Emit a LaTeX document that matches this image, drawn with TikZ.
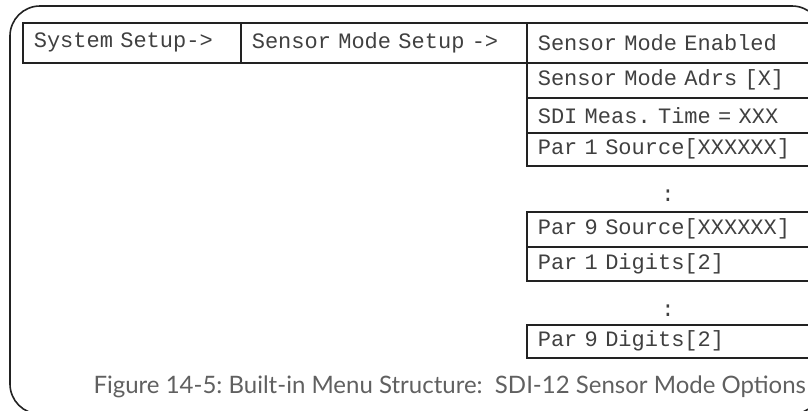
\documentclass[tikz,border=0pt]{standalone}
\usepackage{fontspec}
\setmonofont{Liberation Mono}[WordSpace={1,0,0},PunctuationSpace=1]
\newfontfamily\capfont{Lato}
\definecolor{txtgray}{HTML}{404040}
\definecolor{capgray}{HTML}{606060}
\definecolor{linegray}{HTML}{222222}
\begin{document}
\frenchspacing
\begin{tikzpicture}[x=1pt,y=1pt,
  menubox/.style={draw=linegray, line width=1.6pt, anchor=north west, inner xsep=11pt, inner ysep=0pt,
    font=\ttfamily\fontsize{22}{22}\selectfont\frenchspacing, text=txtgray, align=left},
  dotsnode/.style={font=\ttfamily\fontsize{22}{22}\selectfont, text=txtgray, inner sep=0pt}]
\useasboundingbox (0,0) rectangle (808,-410);
\clip (0,0) rectangle (808,-410);
\draw[linegray, line width=1.6pt, rounded corners=30pt] (10,-6) rectangle (822,-414);
\node[menubox, text width=196pt, minimum height=40pt] (b1) at (22,-22) {System Setup->};
\node[menubox, text width=264pt, minimum height=40pt] (b2) at (240,-22) {Sensor Mode Setup ->};
\node[menubox, text width=268pt, minimum height=40pt] (b3) at (526,-22) {Sensor Mode Enabled};
\node[menubox, text width=268pt, minimum height=35pt] (b4) at (526,-62) {Sensor Mode Adrs [X]};
\node[menubox, text width=268pt, minimum height=35pt] (b5) at (526,-97) {SDI Meas. Time = XXX};
\node[menubox, text width=268pt, minimum height=33pt] (b6) at (526,-132) {Par 1 Source[XXXXXX]};
\node[dotsnode] (d1) at (668,-196) {:};
\node[menubox, text width=268pt, minimum height=35pt] (b7) at (526,-211) {Par 9 Source[XXXXXX]};
\node[menubox, text width=268pt, minimum height=34pt] (b8) at (526,-246) {Par 1 Digits[2]};
\node[dotsnode] (d2) at (668,-311) {:};
\node[menubox, text width=268pt, minimum height=33pt] (b9) at (526,-324) {Par 9 Digits[2]};
\node[anchor=east, inner sep=0pt, text=capgray, font=\capfont\fontsize{24}{24}\selectfont] (cap) at (806,-387)
  {Figure 14-5: Built-in Menu Structure:\ \ SDI-12 Sensor Mode Options};
\end{tikzpicture}
\end{document}
